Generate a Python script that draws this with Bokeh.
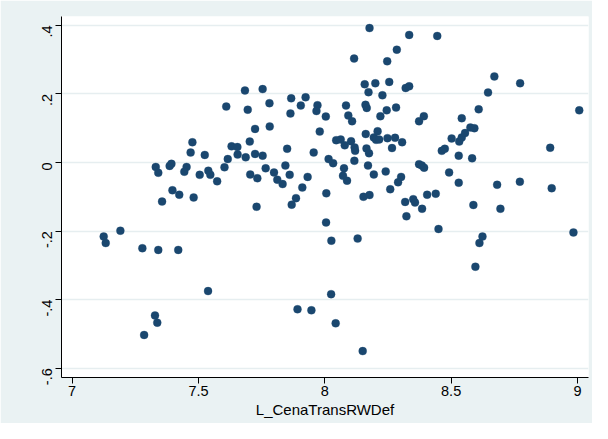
import math
from bokeh.plotting import figure
from bokeh.models import Range1d, FixedTicker, ColumnDataSource
from bokeh.embed import file_html
from bokeh.resources import INLINE

# ---- data ----
x_vals = [
    7.525, 7.469, 7.476, 7.331, 7.341, 7.386, 7.393, 7.453, 7.444, 7.505,
    7.539, 7.547, 7.574, 7.397, 7.424, 7.356, 7.481, 7.125, 7.133, 7.191,
    7.278, 7.341, 7.420, 7.538, 7.328, 7.337, 7.285,
    8.177, 8.116, 8.247, 8.158, 8.200, 8.255, 8.173, 8.228, 7.684, 7.754,
    7.610, 7.695, 7.781, 7.867, 7.924, 7.905, 7.864, 7.971, 7.967, 8.004,
    8.084, 8.093, 8.108, 8.161, 8.166, 8.220, 8.245, 7.724, 7.782, 7.980,
    7.703, 7.631, 7.654, 7.655, 7.616, 7.603, 7.687, 7.724, 7.754, 7.851,
    7.956, 8.045, 8.063, 8.079, 8.104, 8.118, 8.120, 8.162, 8.194, 8.203,
    8.215, 8.209, 8.248, 8.266, 8.165, 8.175, 8.117, 8.015, 8.033, 8.171,
    8.241, 8.194, 8.259, 8.076, 8.072, 8.088, 8.177, 8.153, 8.006, 7.766,
    7.705, 7.733, 7.799, 7.812, 7.833, 7.844, 7.861, 7.932, 7.911, 7.886,
    7.869, 7.730, 8.005, 8.026, 8.130, 8.025, 7.892, 7.947, 8.043, 8.150,
    8.334, 8.445, 8.285, 8.671, 8.773, 8.646, 8.320, 8.334, 8.282, 8.609,
    9.007, 8.373, 8.392, 8.542, 8.278, 8.306, 8.502, 8.532, 8.542, 8.555,
    8.576, 8.592, 8.892, 8.463, 8.475, 8.530, 8.583, 8.373, 8.384, 8.393,
    8.302, 8.290, 8.492, 8.530, 8.682, 8.772, 8.898, 8.318, 8.350, 8.357,
    8.323, 8.385, 8.405, 8.439, 8.588, 8.695, 8.450, 8.624, 8.612, 8.596,
    8.984,
]
y_vals = [
    0.022, 0.029, 0.059, -0.013, -0.030, -0.010, -0.004, -0.013, -0.027, -0.036,
    -0.024, -0.036, -0.055, -0.081, -0.094, -0.114, -0.102, -0.216, -0.235, -0.199,
    -0.250, -0.255, -0.255, -0.375, -0.446, -0.467, -0.503,
    0.392, 0.303, 0.295, 0.228, 0.231, 0.235, 0.205, 0.196, 0.210, 0.214,
    0.163, 0.154, 0.173, 0.187, 0.190, 0.166, 0.143, 0.167, 0.150, 0.134,
    0.166, 0.137, 0.120, 0.168, 0.159, 0.135, 0.152, 0.098, 0.105, 0.090,
    0.061, 0.047, 0.045, 0.023, 0.010, -0.014, 0.015, 0.025, 0.020, 0.040,
    0.029, 0.065, 0.067, 0.050, 0.062, 0.044, 0.034, 0.083, 0.073, 0.066,
    0.067, 0.091, 0.071, 0.042, 0.041, 0.027, 0.005, 0.010, -0.002, -0.009,
    -0.026, -0.035, -0.078, -0.017, -0.039, -0.053, -0.095, -0.100, -0.090, -0.017,
    -0.035, -0.046, -0.029, -0.050, -0.063, -0.009, -0.036, -0.042, -0.073, -0.104,
    -0.123, -0.129, -0.175, -0.228, -0.222, -0.384, -0.428, -0.431, -0.469, -0.550,
    0.372, 0.369, 0.329, 0.251, 0.231, 0.204, 0.217, 0.222, 0.160, 0.155,
    0.152, 0.120, 0.135, 0.129, 0.072, 0.059, 0.070, 0.061, 0.073, 0.086,
    0.102, 0.100, 0.043, 0.034, 0.040, 0.020, 0.012, -0.005, -0.009, -0.015,
    -0.042, -0.058, -0.029, -0.059, -0.065, -0.056, -0.075, -0.115, -0.107, -0.117,
    -0.157, -0.135, -0.094, -0.091, -0.124, -0.135, -0.194, -0.216, -0.235, -0.304,
    -0.204,
]

x_ticks = [7, 7.5, 8, 8.5, 9]
x_tick_labels = ["7", "7.5", "8", "8.5", "9"]
y_ticks = [-0.6, -0.4, -0.2, 0, 0.2, 0.4]
y_tick_labels = ["-.6", "-.4", "-.2", "0", ".2", ".4"]
x_title = "L_CenaTransRWDef"

FONT = "Liberation Sans"

p = figure(
    width=592, height=423,
    x_range=Range1d(6.958, 9.0436),
    y_range=Range1d(-0.627, 0.4257),
    output_backend="svg", toolbar_location=None,
    min_border_left=61, min_border_right=4,
    min_border_top=16, min_border_bottom=46,
)
p.border_fill_color = "#EAF2F3"
p.background_fill_color = "white"
p.outline_line_color = None

src = ColumnDataSource(dict(x=x_vals, y=y_vals))
p.scatter("x", "y", source=src, size=8, marker="circle",
          fill_color="#1A476F", line_color="#1A476F", line_width=0.3)

# x axis
xa = p.xaxis[0]
xa.ticker = FixedTicker(ticks=x_ticks)
xa.major_label_overrides = {t: l for t, l in zip(x_ticks, x_tick_labels)}
xa.axis_label = x_title
xa.axis_label_text_font = FONT
xa.axis_label_text_font_size = "15px"
xa.axis_label_text_font_style = "normal"
xa.axis_label_text_color = "black"
xa.axis_label_standoff = 2
xa.major_label_text_font = FONT
xa.major_label_text_font_size = "14.5px"
xa.major_label_text_color = "black"
xa.major_label_standoff = 2
xa.major_tick_out = 6
xa.major_tick_in = 0
xa.minor_tick_out = 0
xa.minor_tick_in = 0
xa.axis_line_color = "black"
xa.major_tick_line_color = "black"

# y axis
ya = p.yaxis[0]
ya.ticker = FixedTicker(ticks=y_ticks)
ya.major_label_overrides = {t: l for t, l in zip(y_ticks, y_tick_labels)}
ya.major_label_orientation = math.pi / 2
ya.major_label_text_font = FONT
ya.major_label_text_font_size = "14.5px"
ya.major_label_text_color = "black"
ya.major_label_standoff = 8
ya.major_tick_out = 6
ya.major_tick_in = 0
ya.minor_tick_out = 0
ya.minor_tick_in = 0
ya.axis_line_color = "black"
ya.major_tick_line_color = "black"

p.xgrid.grid_line_color = None
p.ygrid.grid_line_color = "#E6EEF0"
p.ygrid.grid_line_width = 1.5

open("out.html", "w").write(file_html(p, INLINE))
